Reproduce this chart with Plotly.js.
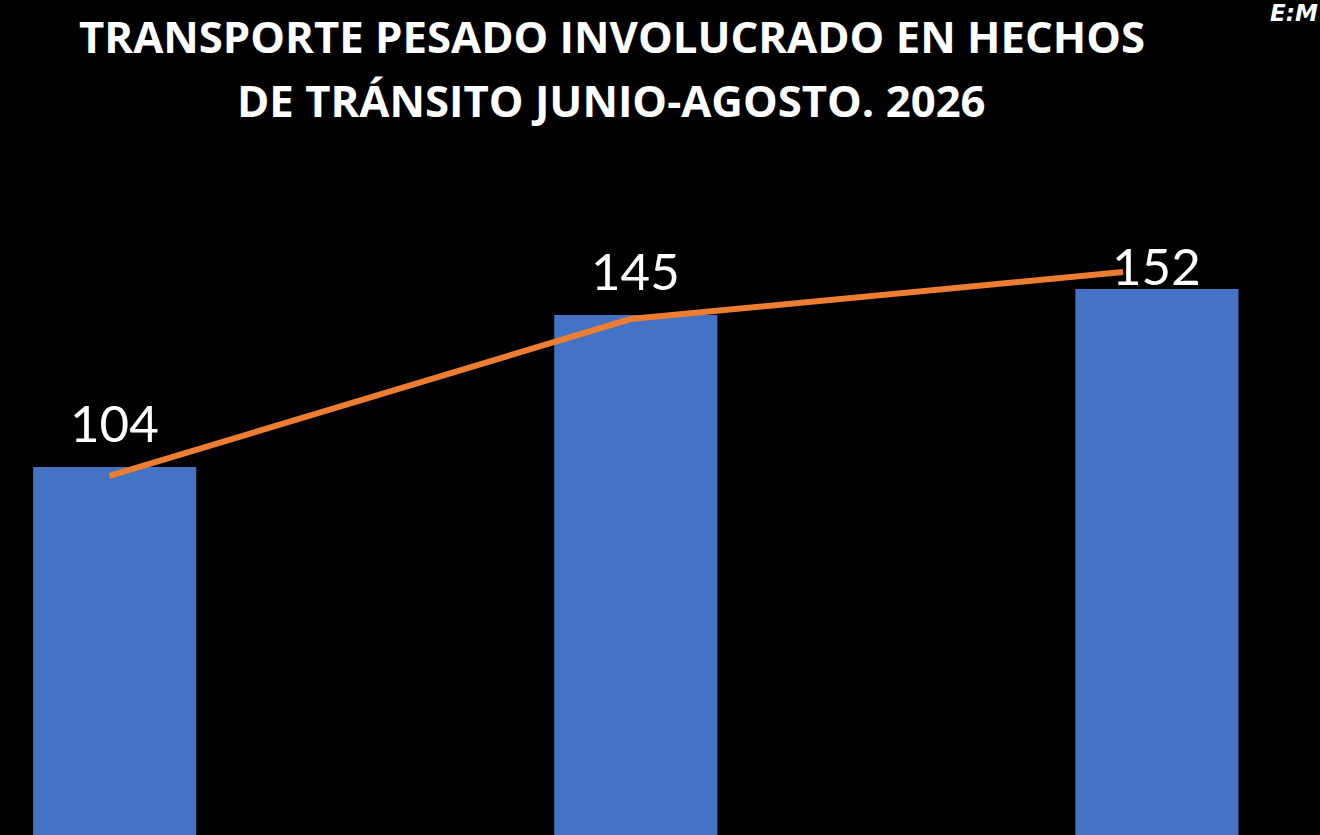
<!DOCTYPE html>
<html>
<head>
<meta charset="utf-8">
<script src="https://cdn.plot.ly/plotly-3.0.1.min.js"></script>
<style>html,body{margin:0;padding:0;background:#000;}#chart{width:1320px;height:835px;}</style>
</head>
<body>
<div id="chart"></div>
<script>
// Data
const categories = ["Junio", "Julio", "Agosto"];
const values = [104, 145, 152];
const valueLabels = ["104", "145", "152"];
// Orange overlay line (as drawn in the picture)
const lineX = [-0.01, 0.99, 1.935];
const lineY = [101.6, 143.9, 156.6];
const titleLines = ["TRANSPORTE PESADO INVOLUCRADO EN HECHOS", "DE TRÁNSITO JUNIO-AGOSTO. 2026"];

const idx = categories.map((c, i) => i);

const bars = {
  type: 'bar',
  x: idx,
  y: values,
  width: 0.313,
  marker: {color: '#4472C4'},
  hovertext: categories,
  showlegend: false
};

const line = {
  type: 'scatter',
  mode: 'lines',
  x: lineX,
  y: lineY,
  line: {color: '#ED7D31', width: 6},
  showlegend: false
};

// label lift above bar tops (px), styling only
const labelLift = [12, 12, -9];
const labelFont = {family: 'Lato, Open Sans, sans-serif', size: 51, color: '#ffffff'};
const labelAnns = values.map((v, i) => ({
  x: idx[i], y: v, xref: 'x', yref: 'y',
  text: valueLabels[i], showarrow: false,
  xanchor: 'center', yanchor: 'bottom', yshift: labelLift[i],
  font: labelFont
}));

const titleFont = {family: 'Open Sans, sans-serif', size: 43.7, color: '#ffffff', weight: 700};
const titleAnns = titleLines.map((t, i) => ({
  text: '<b>' + t + '</b>', xref: 'paper', yref: 'paper',
  x: 0.4636, y: [0.9567, 0.8802][i], xanchor: 'center', yanchor: 'middle',
  showarrow: false, font: titleFont
}));

const layout = {
  width: 1320,
  height: 835,
  paper_bgcolor: '#000000',
  plot_bgcolor: '#000000',
  margin: {l: 0, r: 0, t: 0, b: 0},
  xaxis: {range: [-0.22, 2.313], visible: false, fixedrange: true},
  yaxis: {range: [4.72, 229.97], visible: false, fixedrange: true},
  annotations: labelAnns.concat(titleAnns).concat([{
    text: '<b><i>E:M</i></b>',
    xref: 'paper', yref: 'paper',
    x: 1.0, y: 1.0, xanchor: 'right', yanchor: 'top',
    xshift: 0, yshift: 2,
    showarrow: false,
    font: {family: 'DejaVu Sans, sans-serif', size: 23, color: '#ffffff'}
  }])
};

Plotly.newPlot('chart', [bars, line], layout, {displayModeBar: false, staticPlot: true});
</script>
</body>
</html>
